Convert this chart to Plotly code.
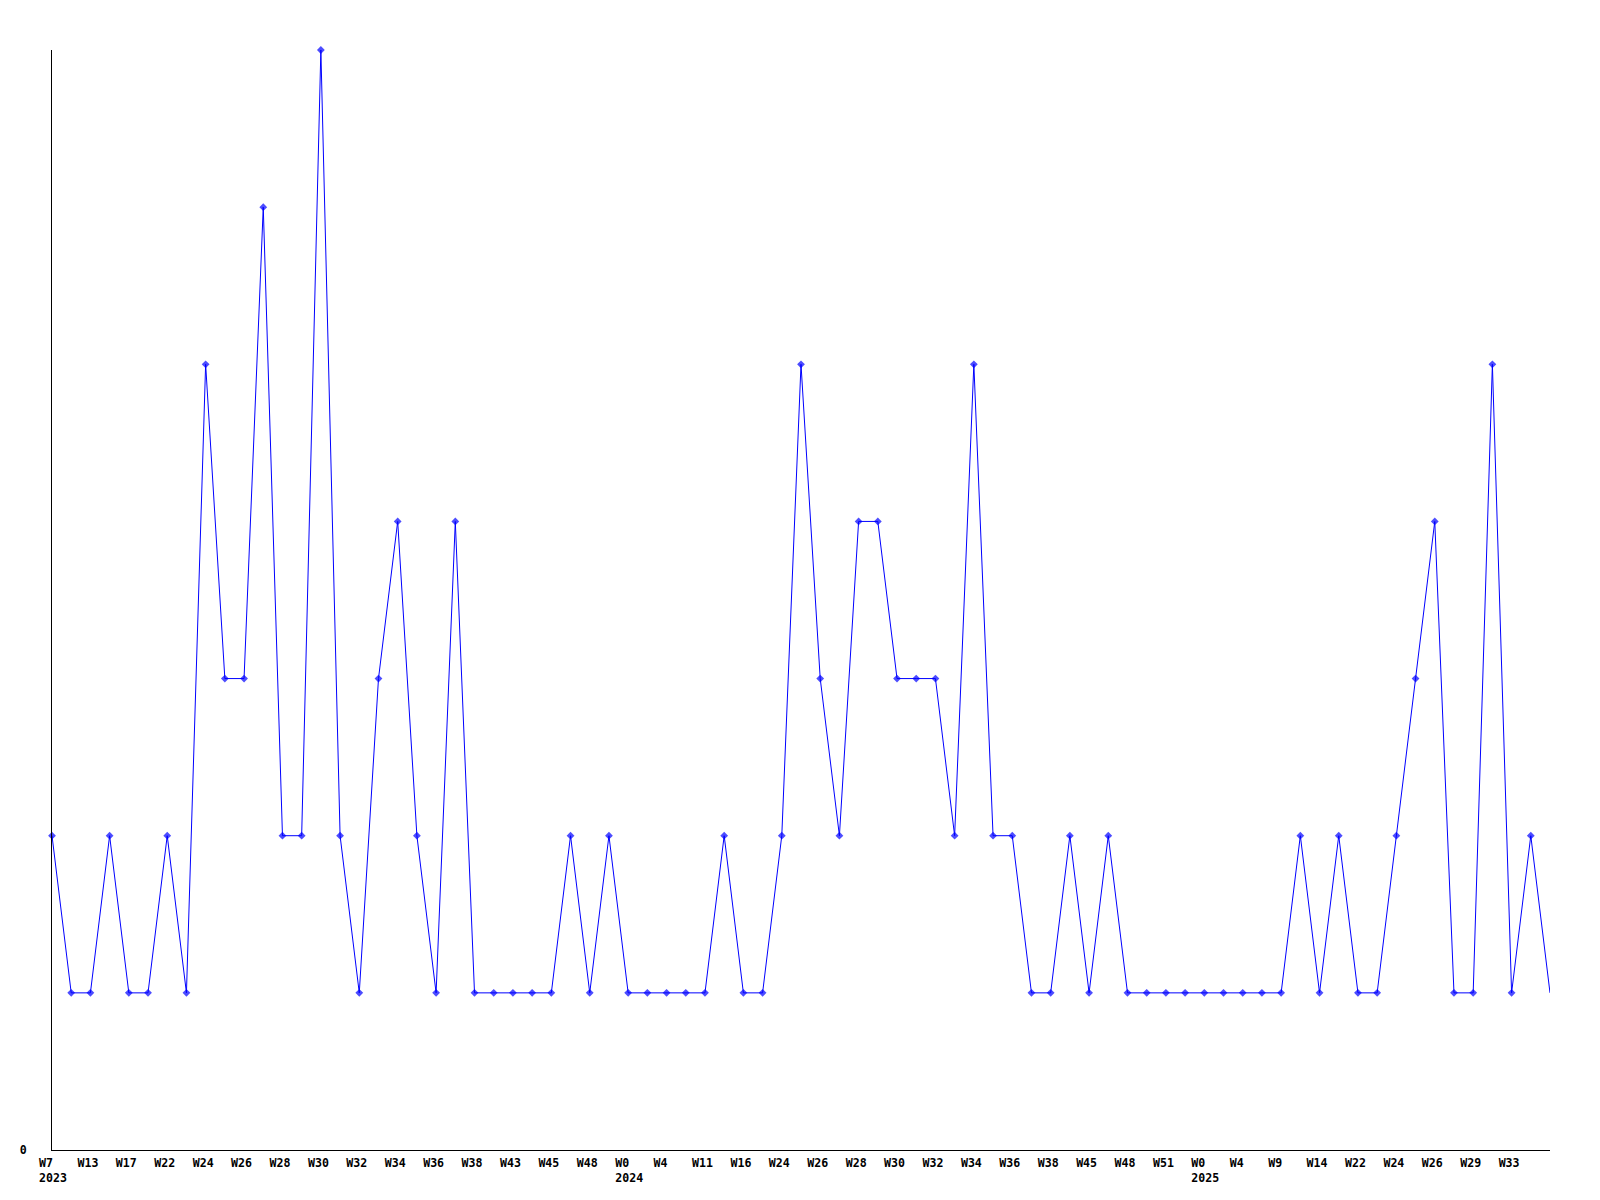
import plotly.graph_objects as go

values = [2, 1, 1, 2, 1, 1, 2, 1, 5, 3, 3, 6, 2, 2, 7, 2, 1, 3, 4, 2,
          1, 4, 1, 1, 1, 1, 1, 2, 1, 2, 1, 1, 1, 1, 1, 2, 1, 1, 2, 5,
          3, 2, 4, 4, 3, 3, 3, 2, 5, 2, 2, 1, 1, 2, 1, 2, 1, 1, 1, 1,
          1, 1, 1, 1, 1, 2, 1, 2, 1, 1, 2, 3, 4, 1, 1, 5, 1, 2, 1]

week_labels = ["W7", "W13", "W17", "W22", "W24", "W26", "W28", "W30", "W32", "W34",
               "W36", "W38", "W43", "W45", "W48", "W0", "W4", "W11", "W16", "W24",
               "W26", "W28", "W30", "W32", "W34", "W36", "W38", "W45", "W48", "W51",
               "W0", "W4", "W9", "W14", "W22", "W24", "W26", "W29", "W33"]
year_labels = {0: "2023", 15: "2024", 30: "2025"}
label_step = 2

x = list(range(len(values)))
NB = "\u00a0"
tickvals = [i * label_step for i in range(len(week_labels))]
ticktext = []
for i, w in enumerate(week_labels):
    t = w + NB * (4 - len(w))
    if i in year_labels:
        t += "<br>" + year_labels[i]
    ticktext.append(t)

marker_sizes = [6] * (len(values) - 1) + [0]

fig = go.Figure()
fig.add_trace(go.Scatter(
    x=x, y=values, mode="lines+markers",
    line=dict(color="#0000ff", width=1),
    marker=dict(symbol="diamond", size=marker_sizes, color="#0000ff", line=dict(width=0)),
    cliponaxis=False, hoverinfo="skip",
))

tf = dict(family="DejaVu Sans Mono", size=11.6, color="black", weight="bold")
fig.update_layout(
    width=1600, height=1200,
    margin=dict(l=42, r=58, t=42, b=58),
    paper_bgcolor="white", plot_bgcolor="white",
    showlegend=False,
    font=dict(family="DejaVu Sans Mono", size=11.6, color="black"),
    xaxis=dict(
        range=[0, len(values) - 1], tickmode="array", tickvals=tickvals, ticktext=ticktext,
        showgrid=False, zeroline=False, showline=True, linecolor="black", linewidth=1,
        ticks="", tickfont=tf, ticklabelshift=1, ticklabelstandoff=2, tickangle=0,
    ),
    yaxis=dict(
        range=[0, 7], tickmode="array", tickvals=[0], ticktext=["0"],
        showgrid=False, zeroline=False, showline=True, linecolor="black", linewidth=1,
        ticks="", tickfont=tf, ticklabelstandoff=22,
    ),
)
fig.write_html("out.html")
